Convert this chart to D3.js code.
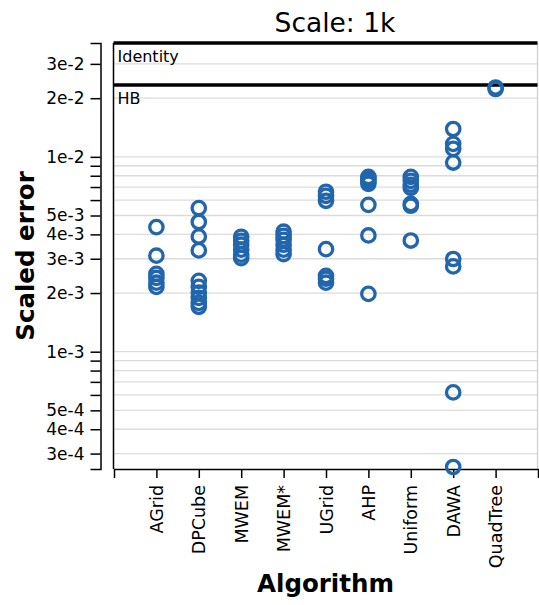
<!DOCTYPE html>
<html>
<head>
<meta charset="utf-8">
<script src="https://cdn.jsdelivr.net/npm/d3@7"></script>
<style>
  body { margin: 0; background: #fff; }
  svg text { font-family: "DejaVu Sans", sans-serif; }
</style>
</head>
<body>
<svg id="chart" width="539" height="605"></svg>
<script>
// Algorithms compared at scale 1k
const algorithms = ["AGrid", "DPCube", "MWEM", "MWEM*", "UGrid", "AHP", "Uniform", "DAWA", "QuadTree"];

// Scaled error of each run, one list per algorithm (same order as above)
const scaledErrors = [
  [4.36e-3, 3.11e-3, 2.51e-3, 2.39e-3, 2.26e-3, 2.15e-3],
  [5.46e-3, 4.63e-3, 3.90e-3, 3.31e-3, 2.31e-3, 2.15e-3, 2.01e-3, 1.89e-3, 1.78e-3, 1.70e-3],
  [3.89e-3, 3.71e-3, 3.54e-3, 3.34e-3, 3.15e-3, 3.02e-3],
  [4.13e-3, 3.93e-3, 3.75e-3, 3.54e-3, 3.34e-3, 3.17e-3],
  [6.62e-3, 6.31e-3, 5.95e-3, 3.36e-3, 2.45e-3, 2.37e-3, 2.26e-3],
  [7.89e-3, 7.70e-3, 7.50e-3, 7.27e-3, 5.67e-3, 3.95e-3, 1.98e-3],
  [7.89e-3, 7.53e-3, 7.19e-3, 6.93e-3, 5.74e-3, 5.61e-3, 3.72e-3],
  [1.39e-2, 1.166e-2, 1.099e-2, 9.35e-3, 2.99e-3, 2.74e-3, 6.18e-4, 2.56e-4],
  [2.27e-2, 2.23e-2]
];

// Baseline methods drawn as horizontal reference lines
const baselineNames = ["Identity", "HB"];
const baselineErrors = [3.84e-2, 2.34e-2];

// Log-axis ticks and their labels (blank = unlabeled minor tick)
const yTickValues = [3e-2, 2e-2, 1e-2, 9e-3, 8e-3, 7e-3, 6e-3, 5e-3, 4e-3, 3e-3, 2e-3,
                     1e-3, 9e-4, 8e-4, 7e-4, 6e-4, 5e-4, 4e-4, 3e-4];
const yTickLabels = ["3e-2", "2e-2", "1e-2", "", "", "", "", "5e-3", "4e-3", "3e-3", "2e-3",
                     "1e-3", "", "", "", "", "5e-4", "4e-4", "3e-4"];
const yDomain = [2.5e-4, 3.84e-2];

const plotLeft = 113.5, plotRight = 537.5, plotTop = 43, plotBottom = 469;
const pointColor = "#2166ac";

const svg = d3.select("#chart");

const x = d3.scalePoint().domain(algorithms).range([114, 538]).padding(1);
const y = d3.scaleLog().domain(yDomain).range([plotBottom, plotTop]);

// Horizontal gridlines at every tick
svg.append("g")
  .selectAll("line")
  .data(yTickValues)
  .join("line")
  .attr("x1", plotLeft).attr("x2", plotRight)
  .attr("y1", d => y(d)).attr("y2", d => y(d))
  .attr("stroke", "#dcdcdc").attr("stroke-width", 1.3);

// Plot frame edges
svg.append("line")
  .attr("x1", plotRight).attr("x2", plotRight)
  .attr("y1", plotTop).attr("y2", plotBottom)
  .attr("stroke", "#d0d0d0").attr("stroke-width", 1.3);
svg.append("line")
  .attr("x1", plotLeft).attr("x2", plotLeft)
  .attr("y1", plotTop).attr("y2", plotBottom)
  .attr("stroke", "#000").attr("stroke-width", 1.5);

// Reference lines for the baselines
const refs = svg.append("g")
  .selectAll("g")
  .data(baselineNames.map((name, i) => ({ name, value: baselineErrors[i] })))
  .join("g");
refs.append("line")
  .attr("x1", plotLeft).attr("x2", plotRight)
  .attr("y1", d => y(d.value)).attr("y2", d => y(d.value))
  .attr("stroke", "#000").attr("stroke-width", 3.5);
refs.append("text")
  .attr("x", plotLeft + 4)
  .attr("y", d => y(d.value) + 19)
  .attr("font-size", 16)
  .text(d => d.name);

// Y axis, offset to the left of the plot
const yAxis = d3.axisLeft(y)
  .tickValues(yTickValues)
  .tickFormat((d, i) => yTickLabels[i])
  .tickSize(10)
  .tickSizeOuter(10)
  .tickPadding(6);
const gy = svg.append("g")
  .attr("transform", "translate(100.5,0)")
  .call(yAxis);
gy.selectAll("text").attr("font-size", 17).attr("fill", "#000");
gy.selectAll("line, path").attr("stroke", "#000").attr("stroke-width", 1.5);
gy.select(".domain").attr("fill", "none");

// X axis with rotated category labels
const xAxis = d3.axisBottom(x).tickSize(9).tickSizeOuter(9);
const gx = svg.append("g")
  .attr("transform", `translate(0,${plotBottom})`)
  .call(xAxis);
gx.selectAll("line, path").attr("stroke", "#000").attr("stroke-width", 1.5);
gx.select(".domain").attr("fill", "none");
gx.selectAll("text")
  .attr("font-size", 17.5)
  .attr("fill", "#000")
  .attr("transform", "rotate(-90)")
  .attr("text-anchor", "end")
  .attr("x", -16)
  .attr("y", 0)
  .attr("dy", "0.35em");

// Runs as hollow circles
const points = algorithms.flatMap((alg, i) => scaledErrors[i].map(v => ({ alg, v })));
svg.append("g")
  .selectAll("circle")
  .data(points)
  .join("circle")
  .attr("cx", d => x(d.alg))
  .attr("cy", d => y(d.v))
  .attr("r", 6.7)
  .attr("fill", "none")
  .attr("stroke", pointColor)
  .attr("stroke-width", 3.3);

// Titles
svg.append("text")
  .attr("x", 335).attr("y", 32)
  .attr("text-anchor", "middle")
  .attr("font-size", 26.5)
  .text("Scale: 1k");

svg.append("text")
  .attr("x", (plotLeft + plotRight) / 2).attr("y", 592)
  .attr("text-anchor", "middle")
  .attr("font-size", 24.5)
  .attr("font-weight", "bold")
  .text("Algorithm");

svg.append("text")
  .attr("transform", `translate(34,${(plotTop + plotBottom) / 2}) rotate(-90)`)
  .attr("text-anchor", "middle")
  .attr("font-size", 24.5)
  .attr("font-weight", "bold")
  .text("Scaled error");
</script>
</body>
</html>
